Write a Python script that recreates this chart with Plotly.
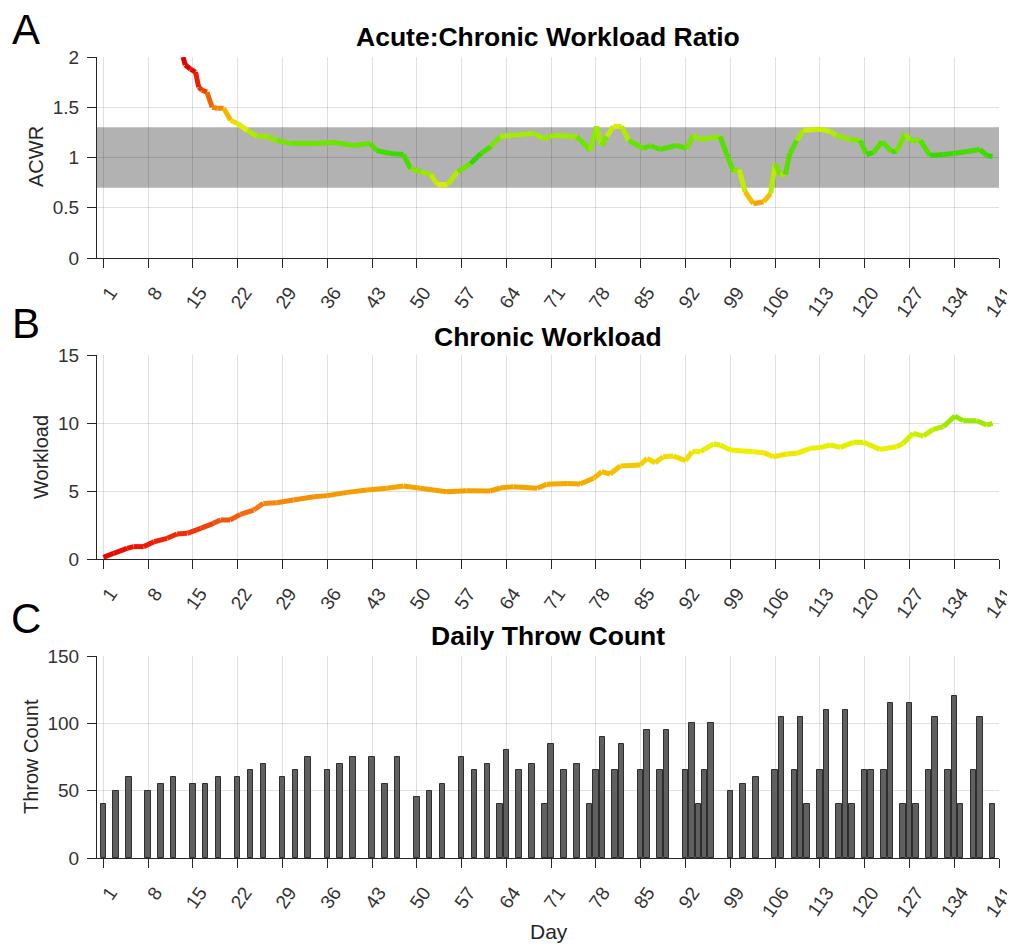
import plotly.graph_objects as go
from plotly.colors import sample_colorscale

# ---------------- data ----------------
acwr_day = [13.45, 13.8, 14.6, 15.4, 15.9, 16.4, 17.2, 18.0, 18.8, 19.8, 20.9, 21.9, 23.5, 25.0,
            26.6, 28.1, 30.2, 34.0, 37.0, 40.1, 42.7, 43.7, 45.8, 47.9, 49.0, 50.6, 52.2, 53.2,
            54.8, 56.4, 58.4, 60.0, 61.6, 63.0, 68.2, 69.8, 71.4, 75.0, 77.1, 78.1, 78.9, 79.7,
            80.7, 82.0, 83.1, 85.4, 86.5, 88.0, 90.6, 92.2, 93.2, 94.3, 97.4, 98.7, 99.5, 100.4,
            101.3, 102.6, 104.2, 105.3, 106.0, 106.8, 107.6, 108.3, 109.4, 110.4, 113.0, 114.6,
            115.6, 117.7, 119.3, 120.3, 121.4, 122.7, 124.2, 125.0, 126.3, 127.1, 128.7, 130.2,
            132.3, 133.9, 136.0, 138.0, 139.1, 140.0]
acwr_val = [2.00, 1.92, 1.88, 1.85, 1.70, 1.67, 1.65, 1.50, 1.49, 1.49, 1.37, 1.34, 1.27, 1.21,
            1.21, 1.17, 1.14, 1.14, 1.15, 1.12, 1.14, 1.07, 1.04, 1.03, 0.89, 0.86, 0.83, 0.73,
            0.73, 0.86, 0.94, 1.04, 1.11, 1.21, 1.24, 1.19, 1.22, 1.21, 1.07, 1.31, 1.12, 1.21,
            1.31, 1.31, 1.17, 1.09, 1.12, 1.08, 1.12, 1.09, 1.22, 1.18, 1.21, 0.99, 0.86, 0.88,
            0.66, 0.54, 0.56, 0.64, 0.94, 0.83, 0.83, 1.04, 1.17, 1.27, 1.28, 1.26,
            1.22, 1.18, 1.17, 1.03, 1.05, 1.16, 1.06, 1.06, 1.24, 1.17, 1.17, 1.02,
            1.03, 1.04, 1.06, 1.08, 1.02, 1.01]

chronic_day = [1.0, 2.6, 4.7, 5.7, 7.3, 8.9, 10.95, 12.5, 14.1, 16.2, 18.2, 19.3, 20.8, 22.4, 24.5,
               26.0, 28.1, 30.7, 33.9, 36.0, 39.1, 42.2, 45.3, 47.9, 50.5, 54.7, 57.8, 61.5, 63.0,
               65.1, 68.8, 70.3, 73.5, 75.5, 77.6, 78.9, 80.2, 81.8, 84.9, 86.0, 87.25, 88.5, 90.1,
               92.0, 93.0, 94.3, 96.4, 97.4, 99.0, 102.6, 104.2, 105.7, 107.8, 109.4, 111.5, 113.0,
               114.6, 116.2, 118.2, 119.8, 122.4, 125.0, 126.0, 127.6, 129.2, 130.7, 132.3, 134.1,
               135.4, 137.5, 139.1, 140.0]
chronic_val = [0.12, 0.42, 0.78, 0.91, 0.91, 1.27, 1.52, 1.84, 1.89, 2.25, 2.62, 2.87, 2.87, 3.28, 3.60,
               4.09, 4.14, 4.34, 4.58, 4.66, 4.90, 5.07, 5.20, 5.37, 5.20, 4.95, 5.02, 5.00, 5.22,
               5.32, 5.20, 5.49, 5.56, 5.51, 5.93, 6.42, 6.25, 6.84, 6.91, 7.40, 7.08, 7.52, 7.57,
               7.23, 7.89, 7.89, 8.46, 8.38, 8.01, 7.89, 7.82, 7.52, 7.72, 7.77, 8.14, 8.19,
               8.38, 8.21, 8.58, 8.58, 8.06, 8.26, 8.50, 9.24, 9.04, 9.53, 9.73, 10.51,
               10.17, 10.17, 9.85, 9.98]

throw_day = [1, 3, 5, 8, 10, 12, 15, 17, 19, 22, 24, 26, 29, 31, 33, 36, 38, 40, 43, 45, 47,
             50, 52, 54, 57, 59, 61, 63, 64, 66, 68, 70, 71, 73, 75, 77, 78, 79, 81, 82,
             85, 86, 88, 89, 92, 93, 94, 95, 96, 99, 101, 103, 106, 107, 109, 110, 111,
             113, 114, 116, 117, 118, 120, 121, 123, 124, 126, 127, 128, 130, 131, 133, 134,
             135, 137, 138, 140]
throw_count = [40, 50, 60, 50, 55, 60, 55, 55, 60, 60, 65, 70, 60, 65, 75, 65, 70, 75, 75, 55, 75,
               45, 50, 55, 75, 65, 70, 40, 80, 65, 70, 40, 85, 65, 70, 40, 65, 90, 65, 85,
               65, 95, 65, 95, 65, 100, 40, 65, 100, 50, 55, 60, 65, 105, 65, 105, 40,
               65, 110, 40, 110, 40, 65, 65, 65, 115, 40, 115, 40, 65, 105, 65, 120,
               40, 65, 105, 40]

day_ticks = list(range(1, 142, 7))
day_ticktext = [str(d) for d in day_ticks]

acwr_band = [0.7, 1.3]

# ---------------- colour maps ----------------
acwr_cs = [[0.0, "rgb(245,140,0)"], [0.0667, "rgb(245,190,0)"], [0.1333, "rgb(232,240,0)"],
           [0.2333, "rgb(150,232,0)"], [0.3333, "rgb(45,215,0)"], [0.4, "rgb(85,225,0)"],
           [0.4667, "rgb(145,235,0)"], [0.5333, "rgb(220,240,0)"], [0.6, "rgb(245,205,0)"],
           [0.6667, "rgb(240,130,0)"], [0.8, "rgb(235,50,0)"], [0.9333, "rgb(225,0,0)"],
           [1.0, "rgb(225,0,0)"]]
chronic_cs = [[0.0, "rgb(228,0,0)"], [0.19, "rgb(240,50,10)"], [0.38, "rgb(245,130,20)"],
              [0.48, "rgb(245,160,0)"], [0.57, "rgb(245,180,0)"], [0.67, "rgb(245,205,0)"],
              [0.76, "rgb(240,240,0)"], [0.86, "rgb(205,240,0)"], [1.0, "rgb(140,230,0)"]]


def seg_color(cs, v, lo, hi):
    t = min(max((v - lo) / (hi - lo), 0.0), 1.0)
    return sample_colorscale(cs, [t])[0]


fig = go.Figure()

for xs, ys, cs, lo, hi, xa, ya in [
    (acwr_day, acwr_val, acwr_cs, 0.5, 2.0, "x", "y"),
    (chronic_day, chronic_val, chronic_cs, 0.0, 10.5, "x2", "y2"),
]:
    for i in range(len(xs) - 1):
        col = seg_color(cs, (ys[i] + ys[i + 1]) / 2, lo, hi)
        fig.add_trace(go.Scatter(x=[xs[i], xs[i + 1]], y=[ys[i], ys[i + 1]], mode="lines",
                                 line=dict(color=col, width=5), showlegend=False,
                                 hoverinfo="skip", xaxis=xa, yaxis=ya))

fig.add_trace(go.Bar(x=throw_day, y=throw_count, width=0.85,
                     marker=dict(color="#606060", line=dict(color="#2e2e2e", width=1)),
                     showlegend=False, xaxis="x3", yaxis="y3"))

# page body has an 8px margin: lay out in screen pixels, then convert
OFF = 8
W, H = 1015 - OFF, 945 - OFF


def fx(sx):
    return (sx - OFF) / W


def fy(sy):
    return 1 - (sy - OFF) / H


xdom = [fx(97), fx(999)]
ydoms = [[fy(258), fy(57)], [fy(559), fy(355)], [fy(858), fy(656)]]
yranges = [[0, 2], [0, 15], [0, 150]]
yticks = [([0, 0.5, 1, 1.5, 2], ["0", "0.5", "1", "1.5", "2"]),
          ([0, 5, 10, 15], ["0", "5", "10", "15"]),
          ([0, 50, 100, 150], ["0", "50", "100", "150"])]

FONT = "Liberation Sans, Arial, sans-serif"
axcol = "#262626"
grid = "rgba(0,0,0,0.12)"
tickfont = dict(family=FONT, size=19, color="#333333")

layout = dict(template="none", width=W, height=H, margin=dict(l=0, r=0, t=0, b=0, pad=0),
              paper_bgcolor="white", plot_bgcolor="white", bargap=0, showlegend=False)
for k in range(3):
    sx = "" if k == 0 else str(k + 1)
    layout["xaxis" + sx] = dict(domain=xdom, range=[0, 141], anchor="y" + sx, automargin=False,
                                tickmode="array", tickvals=day_ticks, ticktext=day_ticktext,
                                tickangle=-55, ticks="outside", ticklen=9, tickwidth=1,
                                tickcolor=axcol, showline=True, linecolor=axcol, linewidth=1,
                                showgrid=True, gridcolor=grid, gridwidth=1, zeroline=False,
                                tickfont=tickfont, ticklabelshift=7, ticklabelstandoff=6,
                                ticklabeloverflow="allow")
    layout["yaxis" + sx] = dict(domain=ydoms[k], range=yranges[k], anchor="x" + sx, automargin=False,
                                tickmode="array", tickvals=yticks[k][0], ticktext=yticks[k][1],
                                ticks="outside", ticklen=9, tickwidth=1, tickcolor=axcol,
                                showline=True, linecolor=axcol, linewidth=1,
                                showgrid=True, gridcolor=grid, gridwidth=1, zeroline=False,
                                tickfont=tickfont, ticklabelstandoff=4)
fig.update_layout(**layout)

fig.add_shape(type="rect", xref="x", yref="y", x0=0, x1=141, y0=acwr_band[0], y1=acwr_band[1],
              fillcolor="rgb(178,178,178)", line=dict(width=0), layer="below")

ann = []


def px(x, y, text, size, bold=False, angle=0, color="#000000"):
    ann.append(dict(x=fx(x), y=fy(y), xref="paper", yref="paper", showarrow=False,
                    text=("<b>%s</b>" % text) if bold else text, textangle=angle,
                    xanchor="center", yanchor="middle",
                    font=dict(family=FONT, size=size, color=color)))


px(548, 37, "Acute:Chronic Workload Ratio", 26.5, bold=True)
px(548, 337, "Chronic Workload", 26.5, bold=True)
px(548, 636, "Daily Throw Count", 26.5, bold=True)
px(26, 29, "A", 42)
px(26, 323, "B", 42)
px(26, 618, "C", 42)
px(36, 157, "ACWR", 20, angle=-90, color="#262626")
px(41, 457, "Workload", 20, angle=-90, color="#262626")
px(31, 757, "Throw Count", 20, angle=-90, color="#262626")
px(549, 931, "Day", 21, color="#262626")
fig.update_layout(annotations=ann)

fig.write_html("out.html")
